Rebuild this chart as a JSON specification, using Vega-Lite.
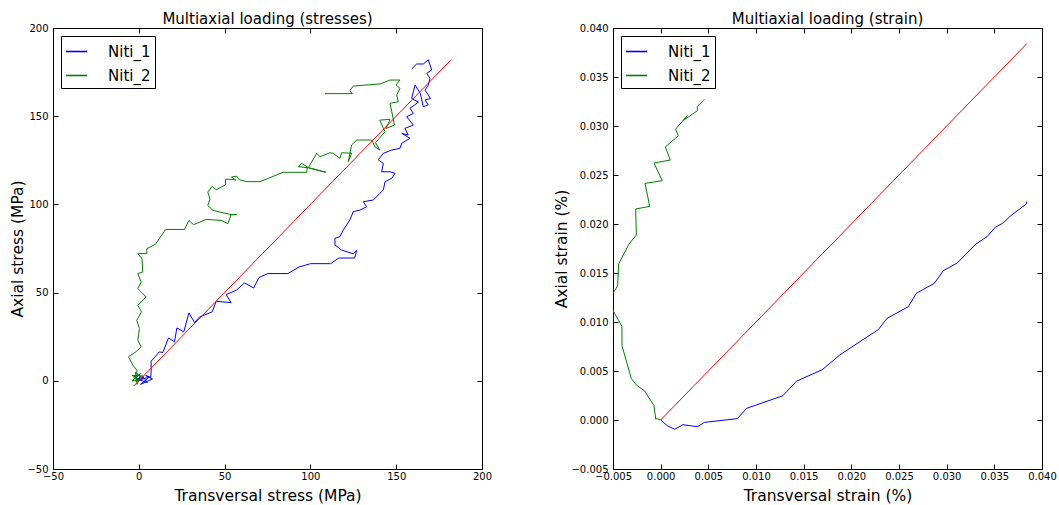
{
  "$schema": "https://vega.github.io/schema/vega-lite/v6.json",
  "padding": {"left": 10, "top": 11, "right": 15, "bottom": 2},
  "background": "white",
  "config": {
    "font": "DejaVu Sans",
    "view": {"stroke": "black", "strokeWidth": 1},
    "axis": {
      "grid": false, "domain": false, "tickColor": "black", "tickSize": -5, "tickWidth": 1,
      "labelColor": "black", "labelFontSize": 10, "labelFont": "DejaVu Sans", "labelFlush": false, "labelOverlap": false,
      "titleColor": "black", "titleFontSize": 15.5, "titleFontWeight": "normal", "titleFont": "DejaVu Sans"
    },
    "axisX": {"labelPadding": 7},
    "axisY": {"labelPadding": 10},
    "title": {"fontSize": 15, "fontWeight": "normal", "font": "DejaVu Sans", "color": "black", "offset": -4},
    "legend": {
      "orient": "top-left", "offset": 8, "strokeColor": "black", "fillColor": "white", "padding": 4,
      "labelFontSize": 15, "labelFont": "DejaVu Sans", "labelColor": "black", "symbolType": "stroke",
      "symbolSize": 441, "symbolStrokeWidth": 1.6, "labelOffset": 20, "rowPadding": 4, "cornerRadius": 0
    }
  },
  "datasets": {
    "stress": [
      {"s":"Niti_1","i":0,"x":0,"y":0},{"s":"Niti_1","i":1,"x":3,"y":2},{"s":"Niti_1","i":2,"x":-1,"y":1},{"s":"Niti_1","i":3,"x":5,"y":-1},{"s":"Niti_1","i":4,"x":2,"y":3},{"s":"Niti_1","i":5,"x":-2,"y":0},{"s":"Niti_1","i":6,"x":6,"y":2},{"s":"Niti_1","i":7,"x":1,"y":-2},{"s":"Niti_1","i":8,"x":8,"y":1},{"s":"Niti_1","i":9,"x":4,"y":3},{"s":"Niti_1","i":10,"x":7,"y":2},
      {"s":"Niti_1","i":11,"x":7.2,"y":5.1},{"s":"Niti_1","i":12,"x":7.2,"y":11.1},{"s":"Niti_1","i":13,"x":12,"y":16.4},{"s":"Niti_1","i":14,"x":14,"y":16},{"s":"Niti_1","i":15,"x":17.3,"y":24.3},{"s":"Niti_1","i":16,"x":20.8,"y":22.1},{"s":"Niti_1","i":17,"x":22.2,"y":30},{"s":"Niti_1","i":18,"x":26.2,"y":27.7},{"s":"Niti_1","i":19,"x":29.2,"y":38.5},{"s":"Niti_1","i":20,"x":32.5,"y":33},{"s":"Niti_1","i":21,"x":35.4,"y":36.2},{"s":"Niti_1","i":22,"x":42.8,"y":39.1},{"s":"Niti_1","i":23,"x":45.1,"y":45.1},{"s":"Niti_1","i":24,"x":53.8,"y":44.3},{"s":"Niti_1","i":25,"x":50.9,"y":48.9},{"s":"Niti_1","i":26,"x":56.8,"y":51.3},{"s":"Niti_1","i":27,"x":61.6,"y":55.5},{"s":"Niti_1","i":28,"x":66.9,"y":52.6},{"s":"Niti_1","i":29,"x":70,"y":58.5},{"s":"Niti_1","i":30,"x":75.2,"y":60.8},{"s":"Niti_1","i":31,"x":86.9,"y":60.8},{"s":"Niti_1","i":32,"x":93.3,"y":64.5},{"s":"Niti_1","i":33,"x":100.1,"y":66.4},{"s":"Niti_1","i":34,"x":111.8,"y":66.4},{"s":"Niti_1","i":35,"x":116.6,"y":69.6},{"s":"Niti_1","i":36,"x":125.8,"y":69.6},{"s":"Niti_1","i":37,"x":127,"y":74},{"s":"Niti_1","i":38,"x":125,"y":72},{"s":"Niti_1","i":39,"x":118.2,"y":74.1},{"s":"Niti_1","i":40,"x":114.3,"y":77},{"s":"Niti_1","i":41,"x":114.3,"y":80.8},{"s":"Niti_1","i":42,"x":117.2,"y":81.7},{"s":"Niti_1","i":43,"x":119.2,"y":85.5},{"s":"Niti_1","i":44,"x":123,"y":91.2},{"s":"Niti_1","i":45,"x":125,"y":95.9},{"s":"Niti_1","i":46,"x":128.9,"y":96.8},{"s":"Niti_1","i":47,"x":132.8,"y":98.7},{"s":"Niti_1","i":48,"x":130.8,"y":101.5},{"s":"Niti_1","i":49,"x":136.7,"y":102.5},{"s":"Niti_1","i":50,"x":140.6,"y":106.3},{"s":"Niti_1","i":51,"x":142.5,"y":108.2},{"s":"Niti_1","i":52,"x":143.5,"y":112.9},{"s":"Niti_1","i":53,"x":147.4,"y":114.8},{"s":"Niti_1","i":54,"x":149.3,"y":117.6},{"s":"Niti_1","i":55,"x":146.4,"y":118.5},{"s":"Niti_1","i":56,"x":141.5,"y":118.5},{"s":"Niti_1","i":57,"x":142.5,"y":123.3},{"s":"Niti_1","i":58,"x":139.6,"y":125.2},{"s":"Niti_1","i":59,"x":142.5,"y":129},{"s":"Niti_1","i":60,"x":147.4,"y":130.8},{"s":"Niti_1","i":61,"x":152.2,"y":131.8},{"s":"Niti_1","i":62,"x":153.2,"y":134.6},{"s":"Niti_1","i":63,"x":158,"y":137.5},{"s":"Niti_1","i":64,"x":153.2,"y":140.3},{"s":"Niti_1","i":65,"x":157,"y":139.3},{"s":"Niti_1","i":66,"x":155.1,"y":143.1},{"s":"Niti_1","i":67,"x":160,"y":145},{"s":"Niti_1","i":68,"x":156.1,"y":149.7},{"s":"Niti_1","i":69,"x":160,"y":151.6},{"s":"Niti_1","i":70,"x":158,"y":154.5},{"s":"Niti_1","i":71,"x":163,"y":158},{"s":"Niti_1","i":72,"x":159,"y":160.1},{"s":"Niti_1","i":73,"x":160,"y":163.9},{"s":"Niti_1","i":74,"x":161,"y":167.7},{"s":"Niti_1","i":75,"x":164,"y":163},{"s":"Niti_1","i":76,"x":165.8,"y":155.4},{"s":"Niti_1","i":77,"x":168.7,"y":156.4},{"s":"Niti_1","i":78,"x":166.8,"y":159.2},{"s":"Niti_1","i":79,"x":170,"y":160},{"s":"Niti_1","i":80,"x":168.7,"y":162},{"s":"Niti_1","i":81,"x":166.8,"y":164.8},{"s":"Niti_1","i":82,"x":168.7,"y":167.7},{"s":"Niti_1","i":83,"x":169.7,"y":171.5},{"s":"Niti_1","i":84,"x":167.8,"y":174.3},{"s":"Niti_1","i":85,"x":170.7,"y":176.2},{"s":"Niti_1","i":86,"x":168.7,"y":182},{"s":"Niti_1","i":87,"x":165.8,"y":179.6},{"s":"Niti_1","i":88,"x":161.9,"y":179.6},{"s":"Niti_1","i":89,"x":159,"y":176.8},
      {"s":"Niti_2","i":0,"x":0,"y":0},{"s":"Niti_2","i":1,"x":-3,"y":2},{"s":"Niti_2","i":2,"x":1,"y":4},{"s":"Niti_2","i":3,"x":-4,"y":0},{"s":"Niti_2","i":4,"x":2,"y":1},{"s":"Niti_2","i":5,"x":-2,"y":5},{"s":"Niti_2","i":6,"x":-1,"y":-2},{"s":"Niti_2","i":7,"x":1,"y":3},{"s":"Niti_2","i":8,"x":-4,"y":3},{"s":"Niti_2","i":9,"x":-1,"y":2},
      {"s":"Niti_2","i":10,"x":-1.2,"y":6},{"s":"Niti_2","i":11,"x":-3.5,"y":8.9},{"s":"Niti_2","i":12,"x":-6,"y":13.6},{"s":"Niti_2","i":13,"x":-1.2,"y":16.8},{"s":"Niti_2","i":14,"x":1.4,"y":19.2},{"s":"Niti_2","i":15,"x":-0.6,"y":23},{"s":"Niti_2","i":16,"x":0.4,"y":29.6},{"s":"Niti_2","i":17,"x":-1.2,"y":34.3},{"s":"Niti_2","i":18,"x":1.6,"y":39.1},{"s":"Niti_2","i":19,"x":-0.6,"y":42.8},{"s":"Niti_2","i":20,"x":4.3,"y":47.5},{"s":"Niti_2","i":21,"x":-0.6,"y":52.3},{"s":"Niti_2","i":22,"x":1.4,"y":56},{"s":"Niti_2","i":23,"x":-0.6,"y":60.8},{"s":"Niti_2","i":24,"x":2.3,"y":61.7},{"s":"Niti_2","i":25,"x":1.9,"y":69.2},{"s":"Niti_2","i":26,"x":-0.6,"y":72.1},{"s":"Niti_2","i":27,"x":4.7,"y":72.1},{"s":"Niti_2","i":28,"x":4.7,"y":74.9},{"s":"Niti_2","i":29,"x":9.7,"y":77.4},{"s":"Niti_2","i":30,"x":15.6,"y":85.8},{"s":"Niti_2","i":31,"x":26.6,"y":85.8},{"s":"Niti_2","i":32,"x":29.2,"y":90.9},{"s":"Niti_2","i":33,"x":31.9,"y":88.5},{"s":"Niti_2","i":34,"x":39.3,"y":91.5},{"s":"Niti_2","i":35,"x":48,"y":90.9},{"s":"Niti_2","i":36,"x":51.9,"y":89.1},{"s":"Niti_2","i":37,"x":53.8,"y":94.2},{"s":"Niti_2","i":38,"x":57,"y":94.2},{"s":"Niti_2","i":39,"x":53.8,"y":94.2},{"s":"Niti_2","i":40,"x":43.2,"y":96.6},{"s":"Niti_2","i":41,"x":40.2,"y":99.4},{"s":"Niti_2","i":42,"x":41.5,"y":103},{"s":"Niti_2","i":43,"x":40.2,"y":107},{"s":"Niti_2","i":44,"x":42.8,"y":110.2},{"s":"Niti_2","i":45,"x":45.1,"y":108.3},{"s":"Niti_2","i":46,"x":50.5,"y":111.1},{"s":"Niti_2","i":47,"x":50.5,"y":114.3},{"s":"Niti_2","i":48,"x":55,"y":114.2},{"s":"Niti_2","i":49,"x":56.6,"y":113.7},{"s":"Niti_2","i":50,"x":54,"y":115.5},{"s":"Niti_2","i":51,"x":57,"y":116},{"s":"Niti_2","i":52,"x":58.5,"y":114},{"s":"Niti_2","i":53,"x":62.9,"y":112.9},{"s":"Niti_2","i":54,"x":70.6,"y":112.9},{"s":"Niti_2","i":55,"x":84.2,"y":118.2},{"s":"Niti_2","i":56,"x":97.8,"y":118.2},{"s":"Niti_2","i":57,"x":98.2,"y":120.8},{"s":"Niti_2","i":58,"x":93,"y":121.4},{"s":"Niti_2","i":59,"x":94.9,"y":123.3},{"s":"Niti_2","i":60,"x":98.8,"y":120.8},{"s":"Niti_2","i":61,"x":109,"y":118.2},{"s":"Niti_2","i":62,"x":98.8,"y":120.8},{"s":"Niti_2","i":63,"x":103.7,"y":129},{"s":"Niti_2","i":64,"x":105.6,"y":127},{"s":"Niti_2","i":65,"x":111.4,"y":129.3},{"s":"Niti_2","i":66,"x":113.3,"y":129},{"s":"Niti_2","i":67,"x":117.2,"y":126.1},{"s":"Niti_2","i":68,"x":118.2,"y":129.3},{"s":"Niti_2","i":69,"x":124,"y":129},{"s":"Niti_2","i":70,"x":122.1,"y":124.2},{"s":"Niti_2","i":71,"x":124,"y":133.7},{"s":"Niti_2","i":72,"x":127,"y":136.5},{"s":"Niti_2","i":73,"x":135.7,"y":136.5},{"s":"Niti_2","i":74,"x":137.6,"y":132.7},{"s":"Niti_2","i":75,"x":140.4,"y":130.8},{"s":"Niti_2","i":76,"x":138,"y":135},{"s":"Niti_2","i":77,"x":143.5,"y":141.2},{"s":"Niti_2","i":78,"x":140.4,"y":147.8},{"s":"Niti_2","i":79,"x":146.4,"y":148.2},{"s":"Niti_2","i":80,"x":144,"y":143},{"s":"Niti_2","i":81,"x":149,"y":145},{"s":"Niti_2","i":82,"x":147.4,"y":152.6},{"s":"Niti_2","i":83,"x":146.4,"y":157.3},{"s":"Niti_2","i":84,"x":151.2,"y":158.2},{"s":"Niti_2","i":85,"x":150.3,"y":162},{"s":"Niti_2","i":86,"x":152.2,"y":165.8},{"s":"Niti_2","i":87,"x":149.9,"y":167.7},{"s":"Niti_2","i":88,"x":152.2,"y":170.5},{"s":"Niti_2","i":89,"x":146.4,"y":170.5},{"s":"Niti_2","i":90,"x":140.6,"y":168.3},{"s":"Niti_2","i":91,"x":125,"y":167.1},{"s":"Niti_2","i":92,"x":123,"y":164.5},{"s":"Niti_2","i":93,"x":124.4,"y":162.8},{"s":"Niti_2","i":94,"x":108.5,"y":162.8}
    ],
    "stressref": [{"x":-3,"y":-3},{"x":182,"y":182}],
    "strain": [
      {"s":"Niti_1","i":0,"x":0,"y":0},{"s":"Niti_1","i":1,"x":0.0007,"y":-0.00058},{"s":"Niti_1","i":2,"x":0.00147,"y":-0.00095},{"s":"Niti_1","i":3,"x":0.00234,"y":-0.00048},{"s":"Niti_1","i":4,"x":0.00385,"y":-0.00068},{"s":"Niti_1","i":5,"x":0.00462,"y":-0.00024},{"s":"Niti_1","i":6,"x":0.00804,"y":0.00014},{"s":"Niti_1","i":7,"x":0.00902,"y":0.00119},{"s":"Niti_1","i":8,"x":0.01283,"y":0.00248},{"s":"Niti_1","i":9,"x":0.01423,"y":0.00395},{"s":"Niti_1","i":10,"x":0.01696,"y":0.00514},{"s":"Niti_1","i":11,"x":0.01878,"y":0.00663},{"s":"Niti_1","i":12,"x":0.02122,"y":0.0082},{"s":"Niti_1","i":13,"x":0.02283,"y":0.00922},{"s":"Niti_1","i":14,"x":0.02374,"y":0.01037},{"s":"Niti_1","i":15,"x":0.02598,"y":0.01156},{"s":"Niti_1","i":16,"x":0.02682,"y":0.01293},{"s":"Niti_1","i":17,"x":0.02871,"y":0.01395},{"s":"Niti_1","i":18,"x":0.02965,"y":0.01524},{"s":"Niti_1","i":19,"x":0.03115,"y":0.01605},{"s":"Niti_1","i":20,"x":0.03308,"y":0.01796},{"s":"Niti_1","i":21,"x":0.03423,"y":0.01871},{"s":"Niti_1","i":22,"x":0.0351,"y":0.01966},{"s":"Niti_1","i":23,"x":0.03591,"y":0.0201},{"s":"Niti_1","i":24,"x":0.03685,"y":0.02095},{"s":"Niti_1","i":25,"x":0.03836,"y":0.02204},{"s":"Niti_1","i":26,"x":0.03836,"y":0.02231},
      {"s":"Niti_2","i":0,"x":0,"y":0},{"s":"Niti_2","i":1,"x":-0.00038,"y":0.00014},{"s":"Niti_2","i":2,"x":-0.00052,"y":0.0001},{"s":"Niti_2","i":3,"x":-0.0007,"y":0.00146},{"s":"Niti_2","i":4,"x":-0.00168,"y":0.00296},{"s":"Niti_2","i":5,"x":-0.00255,"y":0.00357},{"s":"Niti_2","i":6,"x":-0.00308,"y":0.00425},{"s":"Niti_2","i":7,"x":-0.00406,"y":0.00759},{"s":"Niti_2","i":8,"x":-0.00406,"y":0.00956},{"s":"Niti_2","i":9,"x":-0.0051,"y":0.01133},{"s":"Niti_2","i":10,"x":-0.0051,"y":0.01276},{"s":"Niti_2","i":11,"x":-0.00451,"y":0.01371},{"s":"Niti_2","i":12,"x":-0.00441,"y":0.01592},{"s":"Niti_2","i":13,"x":-0.00332,"y":0.01796},{"s":"Niti_2","i":14,"x":-0.00255,"y":0.01888},{"s":"Niti_2","i":15,"x":-0.00262,"y":0.02153},{"s":"Niti_2","i":16,"x":-0.00115,"y":0.0218},{"s":"Niti_2","i":17,"x":-0.00164,"y":0.02415},{"s":"Niti_2","i":18,"x":0.00017,"y":0.02442},{"s":"Niti_2","i":19,"x":-0.0007,"y":0.02622},{"s":"Niti_2","i":20,"x":0.00101,"y":0.02653},{"s":"Niti_2","i":21,"x":0.00049,"y":0.02786},{"s":"Niti_2","i":22,"x":0.00185,"y":0.02901},{"s":"Niti_2","i":23,"x":0.00157,"y":0.02969},{"s":"Niti_2","i":24,"x":0.0028,"y":0.03105},{"s":"Niti_2","i":25,"x":0.00234,"y":0.03054},{"s":"Niti_2","i":26,"x":0.00385,"y":0.03156},{"s":"Niti_2","i":27,"x":0.00385,"y":0.032},{"s":"Niti_2","i":28,"x":0.00458,"y":0.03272}
    ],
    "strainref": [{"x":0,"y":0},{"x":0.0384,"y":0.0384}]
  },
  "resolve": {"scale": {"color": "independent"}, "legend": {"color": "independent"}},
  "spacing": 131,
  "bounds": "flush",
  "hconcat": [
    {
      "width": 429, "height": 441,
      "title": "Multiaxial loading (stresses)",
      "resolve": {"axis": {"x": "independent", "y": "independent"}},
      "layer": [
        {
          "data": {"name": "stress"},
          "mark": {"type": "line", "strokeWidth": 1, "clip": true},
          "encoding": {
            "x": {"field": "x", "type": "quantitative", "scale": {"domain": [-50, 200], "nice": false, "zero": false},
                  "axis": {"orient": "bottom", "values": [-50, 0, 50, 100, 150, 200], "title": "Transversal stress (MPa)", "titlePadding": 7}},
            "y": {"field": "y", "type": "quantitative", "scale": {"domain": [-50, 200], "nice": false, "zero": false},
                  "axis": {"orient": "left", "values": [-50, 0, 50, 100, 150, 200], "title": "Axial stress (MPa)", "titlePadding": 1}},
            "order": {"field": "i", "type": "quantitative"},
            "color": {"field": "s", "type": "nominal", "scale": {"domain": ["Niti_1", "Niti_2"], "range": ["#0000ff", "#008000"]},
                      "legend": {"title": null, "encode": {"symbols": {"update": {"stroke": {"signal": "datum.value === 'Niti_1' ? '#0000ff' : '#008000'"}}}}}}
          }
        },
        {
          "data": {"name": "stressref"},
          "mark": {"type": "line", "strokeWidth": 1, "color": "#ff0000", "clip": true},
          "encoding": {
            "x": {"field": "x", "type": "quantitative", "axis": {"orient": "top", "values": [-50, 0, 50, 100, 150, 200], "labels": false, "title": null}},
            "y": {"field": "y", "type": "quantitative", "axis": {"orient": "right", "values": [-50, 0, 50, 100, 150, 200], "labels": false, "title": null}}
          }
        }
      ]
    },
    {
      "width": 429, "height": 441,
      "title": "Multiaxial loading (strain)",
      "resolve": {"axis": {"x": "independent", "y": "independent"}},
      "layer": [
        {
          "data": {"name": "strain"},
          "mark": {"type": "line", "strokeWidth": 1, "clip": true},
          "encoding": {
            "x": {"field": "x", "type": "quantitative", "scale": {"domain": [-0.005, 0.04], "nice": false, "zero": false},
                  "axis": {"orient": "bottom", "values": [-0.005, 0, 0.005, 0.01, 0.015, 0.02, 0.025, 0.03, 0.035, 0.04], "format": ".3f", "title": "Transversal strain (%)", "titlePadding": 7}},
            "y": {"field": "y", "type": "quantitative", "scale": {"domain": [-0.005, 0.04], "nice": false, "zero": false},
                  "axis": {"orient": "left", "values": [-0.005, 0, 0.005, 0.01, 0.015, 0.02, 0.025, 0.03, 0.035, 0.04], "format": ".3f", "title": "Axial strain (%)", "titlePadding": 1}},
            "order": {"field": "i", "type": "quantitative"},
            "color": {"field": "s", "type": "nominal", "scale": {"domain": ["Niti_1", "Niti_2"], "range": ["#0000ff", "#008000"]},
                      "legend": {"title": null, "encode": {"symbols": {"update": {"stroke": {"signal": "datum.value === 'Niti_1' ? '#0000ff' : '#008000'"}}}}}}
          }
        },
        {
          "data": {"name": "strainref"},
          "mark": {"type": "line", "strokeWidth": 1, "color": "#ff0000", "clip": true},
          "encoding": {
            "x": {"field": "x", "type": "quantitative", "axis": {"orient": "top", "values": [-0.005, 0, 0.005, 0.01, 0.015, 0.02, 0.025, 0.03, 0.035, 0.04], "labels": false, "title": null}},
            "y": {"field": "y", "type": "quantitative", "axis": {"orient": "right", "values": [-0.005, 0, 0.005, 0.01, 0.015, 0.02, 0.025, 0.03, 0.035, 0.04], "labels": false, "title": null}}
          }
        }
      ]
    }
  ]
}
